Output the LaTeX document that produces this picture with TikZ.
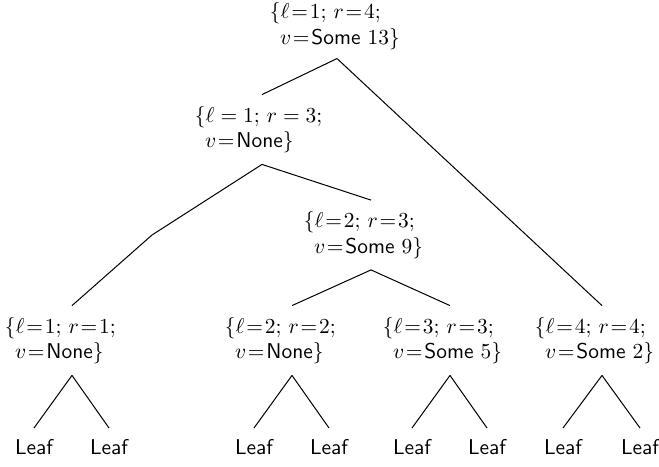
\documentclass[tikz,border=0pt]{standalone}
\newcommand{\req}{\mathrel{\mkern-3.5mu=\mkern-3.5mu}}
\begin{document}
\begin{tikzpicture}[x=0.467pt,y=-0.467pt,
  tn/.style={text width=62.6pt, align=left, inner xsep=0pt, inner ysep=5.1pt},
  leaf/.style={inner xsep=0pt, inner ysep=5.1pt, font=\sffamily},
  conn/.style={draw, line width=0.47pt}]
\useasboundingbox (0,0) rectangle (659,466);
\node[tn, inner ysep=4pt] (root) at (337,26) {$\{\ell\req1$; $r\req4$;\\\hspace*{4.7pt}$v\req\textsf{Some}$ $13\}$};
\node[tn] (A) at (262,129.5) {$\{\ell = 1$; $r = 3$;\\\hspace*{4.7pt}$v\req\textsf{None}\}$};
\node[tn] (B) at (371,235) {$\{\ell\req2$; $r\req3$;\\\hspace*{4.7pt}$v\req\textsf{Some}$ $9\}$};
\node[tn] (C) at (72,340.5) {$\{\ell\req1$; $r\req1$;\\\hspace*{4.7pt}$v\req\textsf{None}\}$};
\node[tn] (D) at (292,340.5) {$\{\ell\req2$; $r\req2$;\\\hspace*{4.7pt}$v\req\textsf{None}\}$};
\node[tn] (E) at (450,340.5) {$\{\ell\req3$; $r\req3$;\\\hspace*{4.7pt}$v\req\textsf{Some}$ $5\}$};
\node[tn] (F) at (602,340.5) {$\{\ell\req4$; $r\req4$;\\\hspace*{4.7pt}$v\req\textsf{Some}$ $2\}$};
\node[leaf] (l1) at (34,447) {Leaf};
\node[leaf] (l2) at (109,447) {Leaf};
\node[leaf] (l3) at (254,447) {Leaf};
\node[leaf] (l4) at (329,447) {Leaf};
\node[leaf] (l5) at (412,447) {Leaf};
\node[leaf] (l6) at (487,447) {Leaf};
\node[leaf] (l7) at (563,447) {Leaf};
\node[leaf] (l8) at (640,447) {Leaf};
\coordinate (bend) at (152,235);
\draw[conn] (root.south) -- (A.north);
\draw[conn] (root.south) -- (F.north);
\draw[conn] (A.south) -- (bend) -- (C.north);
\draw[conn] (A.south) -- (B.north);
\draw[conn] (B.south) -- (D.north);
\draw[conn] (B.south) -- (E.north);
\draw[conn] (C.south) -- (l1.north);
\draw[conn] (C.south) -- (l2.north);
\draw[conn] (D.south) -- (l3.north);
\draw[conn] (D.south) -- (l4.north);
\draw[conn] (E.south) -- (l5.north);
\draw[conn] (E.south) -- (l6.north);
\draw[conn] (F.south) -- (l7.north);
\draw[conn] (F.south) -- (l8.north);
\end{tikzpicture}
\end{document}
